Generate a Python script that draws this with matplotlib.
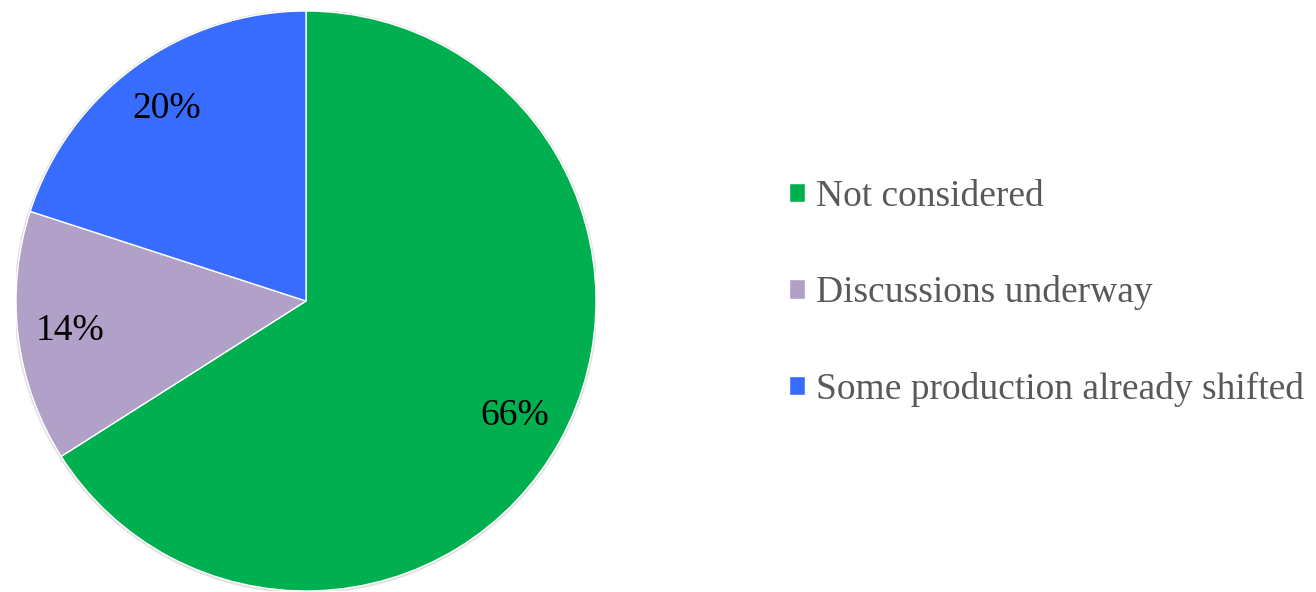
import matplotlib.pyplot as plt
from matplotlib.patches import Circle

labels = ['Not considered', 'Discussions underway', 'Some production already shifted']
shares = [66, 14, 20]
colors = ['#00B050', '#B1A0C7', '#376CFF']

W, H = 1316, 592
fig = plt.figure(figsize=(W / 100, H / 100), dpi=100)

cx, cy, r = 306, 301, 290
ax = fig.add_axes([(cx - r) / W, (H - cy - r) / H, 2 * r / W, 2 * r / H])

# faint shadow ring behind the pie
ax.add_patch(Circle((0.0, -0.002), 1.007, color='#e2e2e2', zorder=0, lw=0))

wedges, texts, autotexts = ax.pie(
    shares, colors=colors, startangle=90, counterclock=False,
    autopct='%d%%', pctdistance=0.82,
    wedgeprops=dict(edgecolor='white', linewidth=1),
    textprops=dict(fontsize=27, family='Liberation Serif', color='black'))
for w in wedges:
    w.set_zorder(1)
ax.set_xlim(-1, 1)
ax.set_ylim(-1, 1)
ax.set_aspect('equal')
ax.axis('off')

leg = fig.legend(wedges, labels, loc='center left', bbox_to_anchor=(789 / W, 1 - 293 / H),
                 frameon=False, handlelength=0.42, handleheight=0.42, handletextpad=0.3,
                 labelspacing=1.64, borderpad=0, borderaxespad=0,
                 prop=dict(family='Liberation Serif', size=27))
for t in leg.get_texts():
    t.set_color('#595959')

fig.savefig('out.png', dpi=100)
